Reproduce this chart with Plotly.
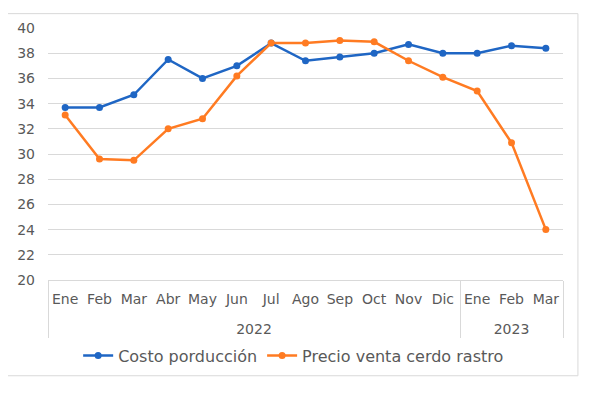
import plotly.graph_objects as go

months = ["Ene", "Feb", "Mar", "Abr", "May", "Jun", "Jul", "Ago", "Sep", "Oct", "Nov", "Dic", "Ene", "Feb", "Mar"]
years = ["2022"] * 12 + ["2023"] * 3
costo = [33.7, 33.7, 34.7, 37.5, 36.0, 37.0, 38.8, 37.4, 37.7, 38.0, 38.7, 38.0, 38.0, 38.6, 38.4]
precio = [33.1, 29.6, 29.5, 32.0, 32.8, 36.2, 38.8, 38.8, 39.0, 38.9, 37.4, 36.1, 35.0, 30.9, 24.0]
yticks = [20, 22, 24, 26, 28, 30, 32, 34, 36, 38, 40]

BLUE = "#1F66C4"
ORANGE = "#FF7B22"
FONT = "DejaVu Sans"
GRAY = "#595959"

# extra blank line under each month so the year row sits lower, as in the reference
month_labels = [m + "<br>\u00a0" for m in months]

fig = go.Figure()
fig.add_trace(go.Scatter(x=[years, month_labels], y=costo, name="Costo porducción",
                         mode="lines+markers", line=dict(color=BLUE, width=2.5),
                         marker=dict(size=7, color=BLUE)))
fig.add_trace(go.Scatter(x=[years, month_labels], y=precio, name="Precio venta cerdo rastro",
                         mode="lines+markers", line=dict(color=ORANGE, width=2.5),
                         marker=dict(size=7, color=ORANGE)))

fig.update_layout(
    width=592, height=390,
    margin=dict(l=40, r=37, t=20, b=118, autoexpand=False),
    paper_bgcolor="white", plot_bgcolor="white",
    font=dict(family=FONT, size=14, color=GRAY),
    showlegend=True,
    legend=dict(orientation="h", x=0.477, xanchor="center", y=-0.30, yanchor="middle",
                font=dict(size=16, color=GRAY), tracegroupgap=0),
    xaxis=dict(type="multicategory", range=[-0.5, len(months) - 0.5], autorange=False,
               showgrid=False, showline=True, linecolor="#D9D9D9",
               linewidth=1, showdividers=True, dividercolor="#D9D9D9", dividerwidth=1,
               ticks="", tickangle=0, ticklabelstandoff=6,
               tickfont=dict(size=14, color=GRAY), automargin=False),
    yaxis=dict(range=[20, 40], tickvals=yticks, showgrid=True, gridcolor="#D9D9D9",
               gridwidth=1, zeroline=False, showline=False, ticks="",
               ticklabelstandoff=12, tickfont=dict(size=14, color=GRAY), automargin=False),
    shapes=[dict(type="rect", xref="paper", yref="paper", x0=-0.0796, x1=1.029,
                 y0=-0.380, y1=1.057, line=dict(color="#D9D9D9", width=1),
                 fillcolor="rgba(0,0,0,0)", layer="below")],
)

fig.write_html("out.html")
